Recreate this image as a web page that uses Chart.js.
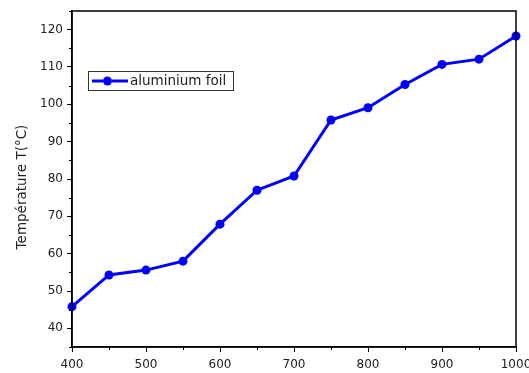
<!DOCTYPE html>
<html>
<head>
<meta charset="utf-8">
<script src="https://cdn.jsdelivr.net/npm/chart.js@4/dist/chart.umd.min.js"></script>
<style>
  html, body { margin: 0; padding: 0; background: #fff; }
  #wrap { width: 529px; height: 373px; }
</style>
</head>
<body>
<div id="wrap"><canvas id="c" width="529" height="373"></canvas></div>
<script>
const seriesLabel = "aluminium foil";
const xValues = [400, 450, 500, 550, 600, 650, 700, 750, 800, 850, 900, 950, 1000];
const tempValues = [45.8, 54.3, 55.6, 58.0, 67.9, 77.0, 80.8, 95.8, 99.1, 105.3, 110.7, 112.1, 118.3];
const xMajorTicks = [400, 500, 600, 700, 800, 900, 1000];
const xMinorTicks = [450, 550, 650, 750, 850, 950];
const yMajorTicks = [40, 50, 60, 70, 80, 90, 100, 110, 120];
const yMinorTicks = [35, 45, 55, 65, 75, 85, 95, 105, 115, 125];
const yTitle = "Température T(°C)";

const FONT = "'DejaVu Sans', 'Liberation Sans', Arial, sans-serif";

const framePlugin = {
  id: 'frame',
  afterDraw(chart) {
    const ctx = chart.ctx;
    const a = chart.chartArea;
    const xs = chart.scales.x, ys = chart.scales.y;
    ctx.save();
    ctx.strokeStyle = '#000';
    ctx.lineWidth = 1.5;
    ctx.strokeRect(a.left, a.top, a.right - a.left, a.bottom - a.top);
    // minor ticks
    ctx.lineWidth = 1;
    xMinorTicks.forEach(v => {
      const px = Math.round(xs.getPixelForValue(v)) + 0.5;
      ctx.beginPath(); ctx.moveTo(px, a.bottom); ctx.lineTo(px, a.bottom + 3); ctx.stroke();
    });
    yMinorTicks.forEach(v => {
      const py = Math.round(ys.getPixelForValue(v)) + 0.5;
      if (py < a.top - 1 || py > a.bottom + 1) return;
      ctx.beginPath(); ctx.moveTo(a.left, py); ctx.lineTo(a.left - 3, py); ctx.stroke();
    });
    // y axis title
    ctx.save();
    ctx.translate(22, 187);
    ctx.rotate(-Math.PI / 2);
    ctx.fillStyle = '#222';
    ctx.font = "13.5px " + FONT;
    ctx.textAlign = 'center';
    ctx.textBaseline = 'middle';
    ctx.fillText(yTitle, 0, 0);
    ctx.restore();
    // legend box
    const lx = 88, ly = 71, lw = 145, lh = 19;
    ctx.fillStyle = '#fff';
    ctx.fillRect(lx, ly, lw, lh);
    ctx.strokeStyle = '#333';
    ctx.lineWidth = 1;
    ctx.strokeRect(lx + 0.5, ly + 0.5, lw, lh);
    const cy = ly + lh / 2 + 0.5;
    ctx.strokeStyle = '#0000ff';
    ctx.lineWidth = 3;
    ctx.beginPath(); ctx.moveTo(lx + 4, cy); ctx.lineTo(lx + 15, cy); ctx.stroke();
    ctx.beginPath(); ctx.moveTo(lx + 24, cy); ctx.lineTo(lx + 40, cy); ctx.stroke();
    ctx.fillStyle = '#0000ff';
    ctx.beginPath(); ctx.arc(lx + 19.5, cy, 4.5, 0, Math.PI * 2); ctx.fill();
    ctx.fillStyle = '#222';
    ctx.font = "13.5px " + FONT;
    ctx.textBaseline = 'middle';
    ctx.textAlign = 'left';
    ctx.fillText(chart.data.datasets[0].label, lx + 42, cy + 0.5);
    ctx.restore();
  }
};

new Chart(document.getElementById('c'), {
  type: 'line',
  data: {
    datasets: [{
      label: seriesLabel,
      data: xValues.map((x, i) => ({ x: x, y: tempValues[i] })),
      borderColor: '#0000ff',
      backgroundColor: '#0000ff',
      borderWidth: 3,
      pointRadius: 4.5,
      pointHoverRadius: 4.5,
      pointBorderWidth: 0,
      tension: 0,
      clip: false
    }]
  },
  options: {
    responsive: false,
    animation: false,
    devicePixelRatio: 1,
    layout: { padding: { top: 11, right: 13, left: 0, bottom: 0 } },
    plugins: { legend: { display: false }, tooltip: { enabled: false } },
    scales: {
      x: {
        type: 'linear',
        min: 400, max: 1000,
        afterBuildTicks: s => { s.ticks = xMajorTicks.map(v => ({ value: v })); },
        afterFit: s => { s.height = 26; s.paddingLeft = 0; s.paddingRight = 0; },
        border: { display: true, color: '#000', width: 1.5 },
        grid: { display: true, drawOnChartArea: false, drawTicks: true, tickLength: 5, color: '#000', tickWidth: 1 },
        ticks: { color: '#222', font: { family: FONT, size: 12 }, padding: 6, maxRotation: 0, autoSkip: false,
                 callback: v => String(v) }
      },
      y: {
        type: 'linear',
        min: 35, max: 125,
        afterBuildTicks: s => { s.ticks = yMajorTicks.map(v => ({ value: v })); },
        afterFit: s => { s.width = 72; s.paddingTop = 0; s.paddingBottom = 0; },
        border: { display: true, color: '#000', width: 1.5 },
        grid: { display: true, drawOnChartArea: false, drawTicks: true, tickLength: 5, color: '#000', tickWidth: 1 },
        ticks: { color: '#222', font: { family: FONT, size: 12 }, padding: 4, autoSkip: false,
                 callback: v => String(v) }
      }
    }
  },
  plugins: [framePlugin]
});
</script>
</body>
</html>
